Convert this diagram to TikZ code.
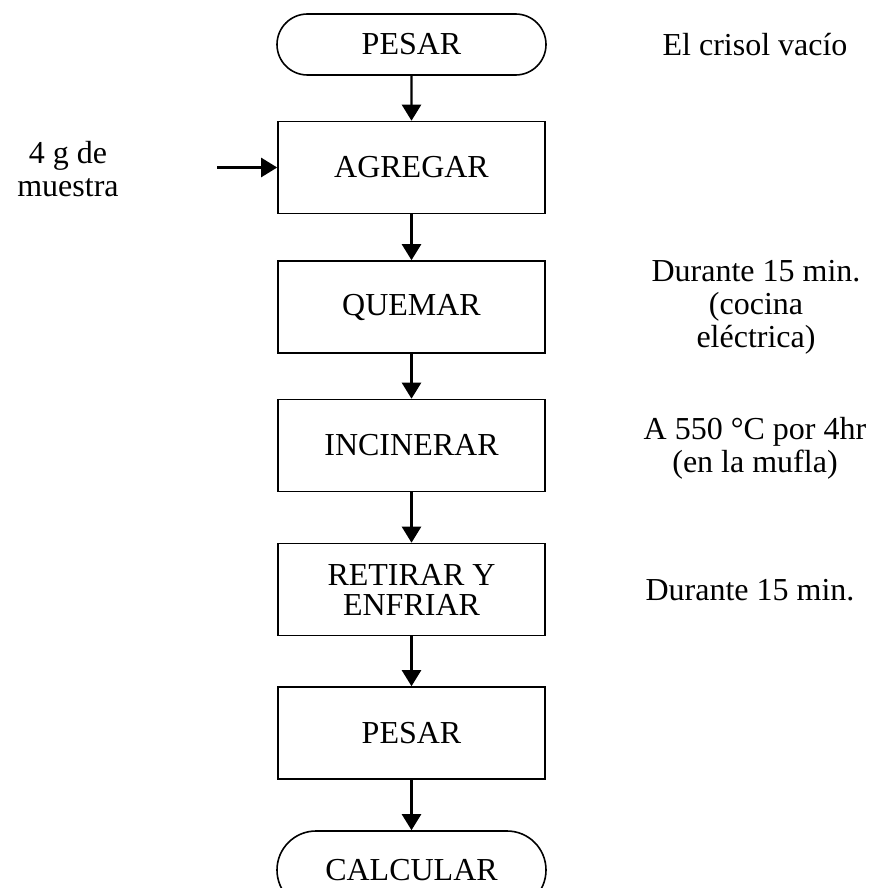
\documentclass[tikz,border=0pt]{standalone}
\usepackage{fontspec}
\setmainfont{Liberation Serif}
\usetikzlibrary{shapes.misc,arrows.meta}
\begin{document}
\begin{tikzpicture}[x=1pt,y=-1pt,
  every node/.style={font=\fontsize{32}{33}\selectfont},
  procbox/.style={draw,line width=1.6pt,minimum width=267pt,minimum height=92pt,inner sep=0pt,align=center},
  termbox/.style={draw,line width=1.6pt,rounded rectangle,minimum width=269pt,inner sep=0pt},
  flow/.style={line width=2.4pt,-{Triangle[length=16pt,width=19pt]}},
  note/.style={align=center,inner sep=0pt}]
\useasboundingbox (0,0) rectangle (872,888);
\clip (0,0) rectangle (872,888);
\node[termbox,minimum height=61pt] (t1) at (411.5,44.5) {PESAR};
\node[procbox] (b1) at (411.5,167.5) {AGREGAR};
\node[procbox] (b2) at (411.5,307) {QUEMAR};
\node[procbox] (b3) at (411.5,445.5) {INCINERAR};
\node[procbox] (b4) at (411.5,589.5) {RETIRAR Y\\[-3pt]ENFRIAR};
\node[procbox] (b5) at (411.5,733) {PESAR};
\node[termbox,minimum height=78pt] (t2) at (411.5,870) {CALCULAR};
\draw[flow] (t1) -- (b1);
\draw[flow] (b1) -- (b2);
\draw[flow] (b2) -- (b3);
\draw[flow] (b3) -- (b4);
\draw[flow] (b4) -- (b5);
\draw[flow] (b5) -- (t2);
\coordinate (in) at (217,167.5);
\draw[flow] (in) -- (b1.west);
\node[note] (l1) at (68,169) {4 g de\\muestra};
\node[note] (r1) at (755,44.5) {El crisol vacío};
\node[note] (r2) at (756,307) {Durante 15 min.\\(cocina\\eléctrica)};
\node[note] (r3) at (755,448) {A 550 °C por 4hr\\(en la mufla)};
\node[note] (r4) at (750,590) {Durante 15 min.};
\end{tikzpicture}
\end{document}
